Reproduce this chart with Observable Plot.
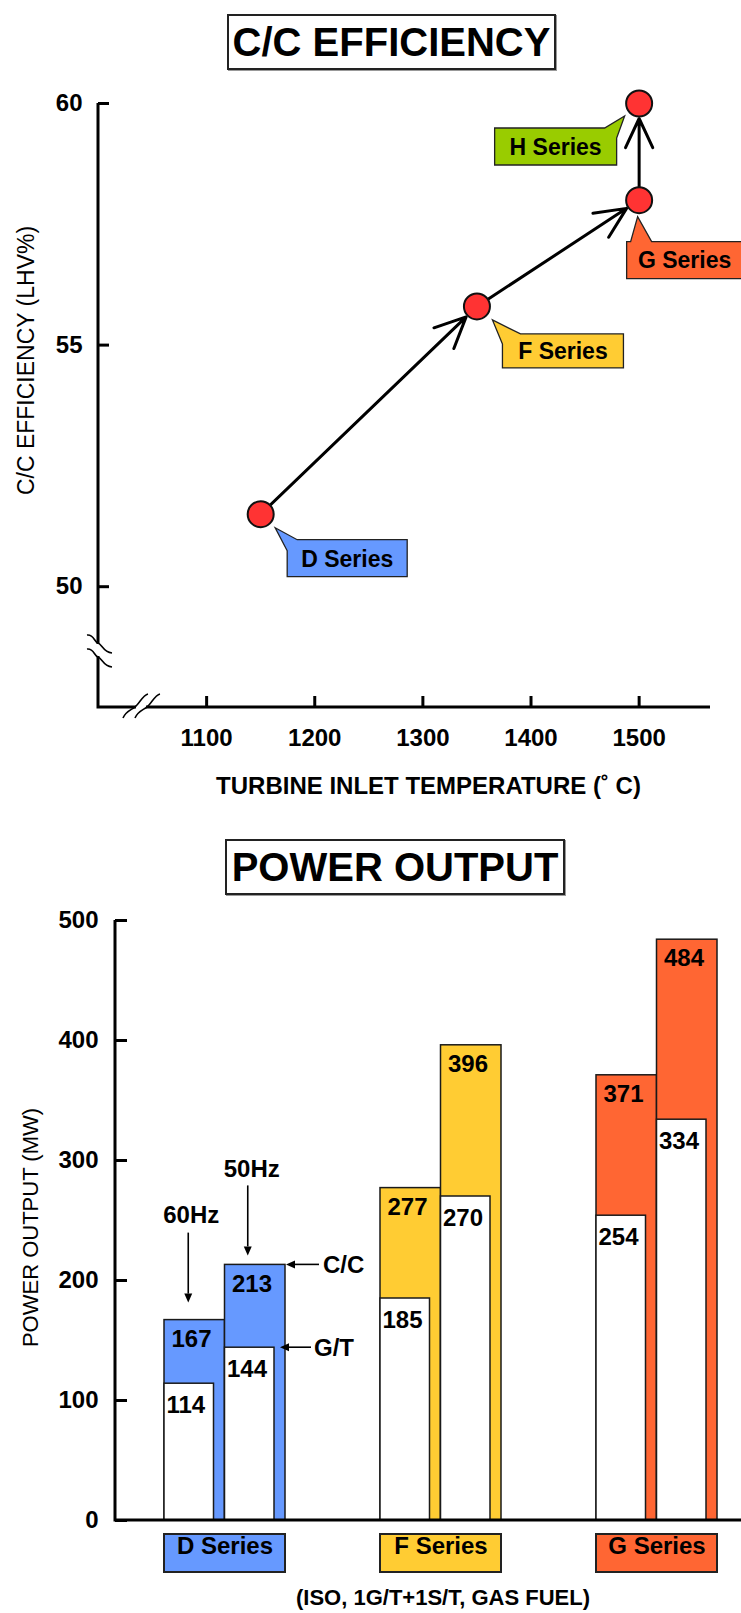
<!DOCTYPE html>
<html>
<head>
<meta charset="utf-8">
<script src="https://cdn.jsdelivr.net/npm/d3@7"></script>
<script src="https://cdn.jsdelivr.net/npm/@observablehq/plot@0.6"></script>
<style>
  html, body { margin: 0; padding: 0; background: #fff; }
  #page { position: relative; width: 741px; height: 1613px; overflow: hidden; background: #fff;
          font-family: "Liberation Sans", Arial, sans-serif; color: #000; }
  .titlebox { position: absolute; box-sizing: border-box; border: 2px solid #222; box-shadow: 1px 1px 0 #999;
              font-weight: bold; font-size: 40px; line-height: 52px; text-align: center; background: #fff; }
  .chart { position: absolute; left: 0; }
  .caption { position: absolute; font-weight: bold; font-size: 22px; line-height: 26px; text-align: center; }
</style>
</head>
<body>
<div id="page">
  <div class="titlebox" style="left:227px; top:14px; width:329px; height:56px;">C/C EFFICIENCY</div>
  <div class="chart" id="chart1" style="top:80px;"></div>
  <div class="titlebox" style="left:225px; top:839px; width:340px; height:56px;">POWER OUTPUT</div>
  <div class="chart" id="chart2" style="top:905px;"></div>
  <div class="caption" style="left:243px; top:1585px; width:400px;">(ISO, 1G/T+1S/T, GAS FUEL)</div>
</div>
<script>
// ---------------- DATA ----------------
// Chart 1: combined-cycle efficiency vs turbine inlet temperature
const effSeries = ["D Series", "F Series", "G Series", "H Series"];
const inletTemp = [1150, 1350, 1500, 1500];          // °C
const ccEfficiency = [51.5, 55.8, 58.0, 60.0];      // LHV %
const tempTicks = [1100, 1200, 1300, 1400, 1500];
const effTicks = [50, 55, 60];

// Chart 2: power output (MW)
const powerSeries = ["D Series", "F Series", "G Series"];
const gt60 = [114, 185, 254];   // 60Hz gas turbine
const cc60 = [167, 277, 371];   // 60Hz combined cycle
const gt50 = [144, 270, 334];   // 50Hz gas turbine
const cc50 = [213, 396, 484];   // 50Hz combined cycle
const powerTicks = [0, 100, 200, 300, 400, 500];

// ---------------- STYLE ----------------
const palette = {"D Series": "#6699FF", "F Series": "#FFCC33", "G Series": "#FF6633", "H Series": "#99CC00"};
const FONT = '"Liberation Sans", Arial, sans-serif';
const plotStyle = {fontFamily: FONT, overflow: "visible", background: "transparent", color: "#000"};

// callout geometry relative to the point (pixels): box [l, r, t, b] and outline polygon
const calloutLayout = {
  "D Series": {box: [27, 147, 26, 63], poly: [[27, 37], [15, 14], [37, 26], [147, 26], [147, 63], [27, 63]]},
  "F Series": {box: [26, 147, 28, 62], poly: [[26, 38], [16, 14], [44, 28], [147, 28], [147, 62], [26, 62]]},
  "G Series": {box: [-12, 104, 42, 79], poly: [[-12, 42], [-8, 42], [-1, 17], [13, 42], [104, 42], [104, 79], [-12, 79]]},
  "H Series": {box: [-144, -22, 25, 62], poly: [[-144, 25], [-34, 25], [-14, 13], [-22, 35], [-22, 62], [-144, 62]]}
};

// ---------------- CHART 1 ----------------
const pts = effSeries.map((s, i) => ({series: s, temp: inletTemp[i], eff: ccEfficiency[i]}));
const segs = d3.pairs(pts).map(([a, b]) => ({x1: a.temp, y1: a.eff, x2: b.temp, y2: b.eff}));

function squiggleH(cx, cy) { // crosses a vertical axis
  return `M${cx - 11},${cy - 8}C${cx - 4},${cy - 9} ${cx - 4},${cy - 1} ${cx},${cy}C${cx + 4},${cy + 1} ${cx + 5},${cy + 9} ${cx + 14},${cy + 10}`;
}
function squiggleV(cx, cy) { // crosses a horizontal axis
  return `M${cx - 12},${cy + 11}C${cx - 9},${cy + 4} ${cx - 4},${cy + 3} ${cx},${cy}C${cx + 4},${cy - 3} ${cx + 8},${cy - 12} ${cx + 13},${cy - 13}`;
}

function axes1(index, scales, values, dim) {
  const {marginLeft: ml, marginTop: mt, marginBottom: mb, marginRight: mr, width: w, height: h} = dim;
  const x0 = ml, y0 = h - mb;
  const g = d3.create("svg:g").attr("fill", "none").attr("stroke", "#000");
  g.append("path").attr("d", `M${x0},${mt}V${y0}H${w - mr}`).attr("stroke-width", 3).attr("stroke-linejoin", "miter");
  // y-axis break
  const yb1 = y0 - 64, yb2 = y0 - 50;
  g.append("rect").attr("x", x0 - 3).attr("y", yb1 + 1).attr("width", 6).attr("height", yb2 - yb1 - 2).attr("fill", "#fff").attr("stroke", "none");
  for (const cy of [yb1, yb2]) g.append("path").attr("d", squiggleH(x0, cy)).attr("stroke-width", 1.6);
  // x-axis break
  const xb1 = x0 + 37, xb2 = x0 + 49;
  g.append("rect").attr("x", xb1 + 1).attr("y", y0 - 3).attr("width", xb2 - xb1 - 2).attr("height", 6).attr("fill", "#fff").attr("stroke", "none");
  for (const cx of [xb1, xb2]) g.append("path").attr("d", squiggleV(cx, y0)).attr("stroke-width", 1.6);
  return g.node();
}

function callouts(index, scales, values, dim) {
  const g = d3.create("svg:g");
  for (const p of pts) {
    const lay = calloutLayout[p.series];
    const px = scales.x(p.temp), py = scales.y(p.eff);
    g.append("path")
      .attr("d", "M" + lay.poly.map(([dx, dy]) => `${px + dx},${py + dy}`).join("L") + "Z")
      .attr("fill", palette[p.series]).attr("stroke", "#222").attr("stroke-width", 1.3);
    const [l, r, t, b] = lay.box;
    g.append("text")
      .attr("x", px + (l + r) / 2).attr("y", py + (t + b) / 2).attr("dy", "0.36em")
      .attr("text-anchor", "middle").attr("font-size", 23).attr("font-weight", "bold")
      .attr("font-family", FONT).attr("fill", "#000").text(p.series);
  }
  return g.node();
}

const chart1 = Plot.plot({
  width: 741, height: 730,
  marginTop: 23, marginBottom: 103, marginLeft: 98, marginRight: 31,
  style: plotStyle,
  x: {domain: [1000, 1566]},
  y: {domain: [47.5, 60]},
  marks: [
    axes1,
    Plot.axisX(tempTicks, {tickSize: -11, tickPadding: 32, strokeWidth: 3, fontSize: 24, fontWeight: "bold", tickFormat: d => String(d), label: null}),
    Plot.axisY(effTicks, {tickSize: -11, tickPadding: 27, strokeWidth: 3, fontSize: 24, fontWeight: "bold", tickFormat: d => String(d), label: null}),
    Plot.text(["TURBINE INLET TEMPERATURE (˚ C)"], {frameAnchor: "bottom", dx: 24, dy: 86, fontSize: 24, fontWeight: "bold", textAnchor: "middle", text: d => d}),
    Plot.text(["C/C EFFICIENCY (LHV%)"], {frameAnchor: "left", rotate: -90, textAnchor: "middle", dx: -72, dy: -45, fontSize: 23, text: d => d}),
    Plot.arrow(segs, {x1: "x1", y1: "y1", x2: "x2", y2: "y2", stroke: "#000", strokeWidth: 3, headLength: 17, headAngle: 50, insetEnd: 15}),
    Plot.dot(pts, {x: "temp", y: "eff", r: 13, fill: "#FF3333", stroke: "#111", strokeWidth: 2}),
    callouts
  ]
});
document.getElementById("chart1").append(chart1);

// ---------------- CHART 2 ----------------
const power = powerSeries.map((s, i) => ({series: s, gt60: gt60[i], cc60: cc60[i], gt50: gt50[i], cc50: cc50[i]}));
const HALF = 60.5;   // half of a series group width (one bar)
const GAP = 11;      // G/T bar narrower than C/C bar

function drawArrow(g, x1, y1, x2, y2) {
  const a = Math.atan2(y2 - y1, x2 - x1), L = 9, W = 4;
  const bx = x2 - L * Math.cos(a), by = y2 - L * Math.sin(a);
  g.append("line").attr("x1", x1).attr("y1", y1).attr("x2", bx).attr("y2", by).attr("stroke", "#000").attr("stroke-width", 1.6);
  g.append("path").attr("d", `M${x2},${y2}L${bx - W * Math.sin(a)},${by + W * Math.cos(a)}L${bx + W * Math.sin(a)},${by - W * Math.cos(a)}Z`).attr("fill", "#000");
}

function axes2(index, scales, values, dim) {
  const {marginLeft: ml, marginTop: mt, marginBottom: mb, marginRight: mr, width: w, height: h} = dim;
  const g = d3.create("svg:g").attr("fill", "none").attr("stroke", "#000");
  g.append("path").attr("d", `M${ml},${mt}V${h - mb}H${w - mr}`).attr("stroke-width", 3);
  return g.node();
}

function hzAnnotations(index, scales, values, dim) {
  const g = d3.create("svg:g");
  const d = power[0];
  const bx = scales.x(d.series), bw = scales.x.bandwidth(), half = bw / 2;
  const c60 = bx + half / 2, c50 = bx + 1.5 * half, right = bx + bw;
  const yc60 = scales.y(d.cc60), yc50 = scales.y(d.cc50), yg50 = scales.y(d.gt50);
  const txt = (x, y, s, anchor) => g.append("text").attr("x", x).attr("y", y).attr("dy", "0.36em")
      .attr("text-anchor", anchor).attr("font-size", 24).attr("font-weight", "bold").attr("font-family", FONT).text(s);
  txt(c60 - 3, yc60 - 105, "60Hz", "middle");
  drawArrow(g, c60 - 6, yc60 - 87, c60 - 6, yc60 - 17);
  txt(c50 - 3, yc50 - 96, "50Hz", "middle");
  drawArrow(g, c50 - 7, yc50 - 79, c50 - 7, yc50 - 9);
  drawArrow(g, right + 34, yc50, right + 1, yc50);
  txt(right + 38, yc50, "C/C", "start");
  drawArrow(g, right + 26, yg50, right - 5, yg50);
  txt(right + 29, yg50, "G/T", "start");
  return g.node();
}

const barStroke = {stroke: "#1a1a1a", strokeWidth: 1.5};
const labelStyle = {fontSize: 24, fontWeight: "bold", textAnchor: "start", lineAnchor: "middle"};

const chart2 = Plot.plot({
  width: 741, height: 680,
  marginTop: 15, marginBottom: 65, marginLeft: 115, marginRight: 0,
  style: plotStyle,
  x: {domain: powerSeries, paddingInner: 0.441, paddingOuter: 0.166, align: 0.667, axis: null},
  y: {domain: [0, 500]},
  marks: [
    Plot.barY(power, {x: "series", y: "cc60", fill: d => palette[d.series], ...barStroke, insetRight: HALF}),
    Plot.barY(power, {x: "series", y: "gt60", fill: "#fff", ...barStroke, insetRight: HALF + GAP}),
    Plot.barY(power, {x: "series", y: "cc50", fill: d => palette[d.series], ...barStroke, insetLeft: HALF}),
    Plot.barY(power, {x: "series", y: "gt50", fill: "#fff", ...barStroke, insetLeft: HALF, insetRight: GAP}),
    Plot.text(power, {x: "series", y: "cc60", text: d => String(d.cc60), dx: -HALF + 7, dy: 19, ...labelStyle}),
    Plot.text(power, {x: "series", y: "gt60", text: d => String(d.gt60), dx: -HALF + 2, dy: 22, ...labelStyle}),
    Plot.text(power, {x: "series", y: "cc50", text: d => String(d.cc50), dx: 7, dy: 19, ...labelStyle}),
    Plot.text(power, {x: "series", y: "gt50", text: d => String(d.gt50), dx: 2, dy: 22, ...labelStyle}),
    axes2,
    Plot.axisY(powerTicks, {tickSize: -12, tickPadding: 29, strokeWidth: 3, fontSize: 24, fontWeight: "bold", tickFormat: d => String(d), label: null}),
    Plot.text(["POWER OUTPUT (MW)"], {frameAnchor: "left", rotate: -90, textAnchor: "middle", dx: -85, dy: 7, fontSize: 22, text: d => d}),
    Plot.cell(power, {x: "series", fill: d => palette[d.series], stroke: "#222", strokeWidth: 2, insetTop: 614, insetBottom: -52}),
    Plot.text(power, {x: "series", text: "series", frameAnchor: "bottom", dy: 33, fontSize: 24, fontWeight: "bold"}),
    hzAnnotations
  ]
});
document.getElementById("chart2").append(chart2);
</script>
</body>
</html>
